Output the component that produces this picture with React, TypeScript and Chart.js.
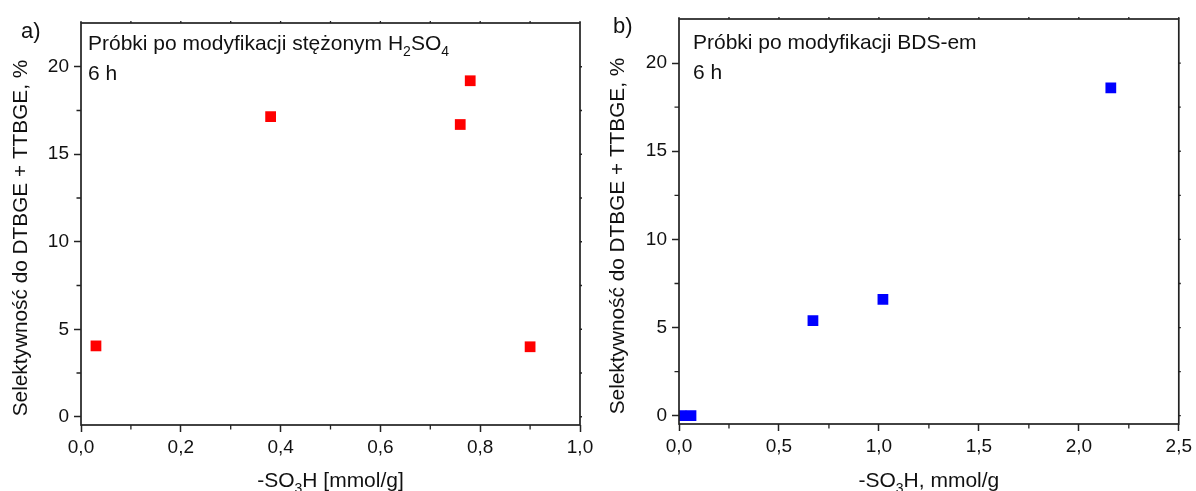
import React, { useEffect, useRef } from "react";
import { Chart, registerables } from "chart.js";
Chart.register(...registerables);

// ---- data ----
const leftX = [0.03, 0.38, 0.76, 0.78, 0.9];
const leftY = [4.05, 17.15, 16.7, 19.2, 4.0];
const rightX = [0.01, 0.06, 0.67, 1.02, 2.16];
const rightY = [0.0, 0.0, 5.4, 6.6, 18.6];

const yTicks = [0, 5, 10, 15, 20];
const yMinor = [2.5, 7.5, 12.5, 17.5];
const leftXTicks = [0, 0.2, 0.4, 0.6, 0.8, 1.0];
const leftXMinor = [0.1, 0.3, 0.5, 0.7, 0.9];
const rightXTicks = [0, 0.5, 1.0, 1.5, 2.0, 2.5];
const rightXMinor = [0.25, 0.75, 1.25, 1.75, 2.25];

const yTitle = "Selektywność do DTBGE + TTBGE, %";
const leftNote = [{ t: "Próbki po modyfikacji stężonym H" }, { t: "2", sub: true }, { t: "SO" }, { t: "4", sub: true }];
const rightNote = [{ t: "Próbki po modyfikacji BDS-em" }];
const timeNote = "6 h";
const leftXTitle = [{ t: "-SO" }, { t: "3", sub: true }, { t: "H [mmol/g]" }];
const rightXTitle = [{ t: "-SO" }, { t: "3", sub: true }, { t: "H, mmol/g" }];

const FONT = '"Liberation Sans", Arial, sans-serif';
const AXIS = "#222";
const TEXT = "#111";

type Part = { t: string; sub?: boolean };

function drawParts(ctx: CanvasRenderingContext2D, parts: Part[], x: number, y: number, size: number, align: "left" | "center") {
  const subSize = Math.round(size * 0.66);
  let total = 0;
  for (const p of parts) {
    ctx.font = `${p.sub ? subSize : size}px ${FONT}`;
    total += ctx.measureText(p.t).width;
  }
  let cx = align === "center" ? x - total / 2 : x;
  ctx.textAlign = "left";
  ctx.textBaseline = "alphabetic";
  for (const p of parts) {
    ctx.font = `${p.sub ? subSize : size}px ${FONT}`;
    ctx.fillText(p.t, cx, y + (p.sub ? size * 0.3 : 0));
    cx += ctx.measureText(p.t).width;
  }
}

function makePlugin(o: any) {
  return {
    id: "frame",
    afterDraw(chart: any) {
      const ctx: CanvasRenderingContext2D = chart.ctx;
      const { left, right, top, bottom } = chart.chartArea;
      const xs = chart.scales.x;
      const ys = chart.scales.y;
      ctx.save();
      ctx.strokeStyle = AXIS;
      ctx.lineWidth = 1.7;
      ctx.strokeRect(left, top, right - left, bottom - top);
      ctx.lineWidth = 1.3;
      ctx.beginPath();
      for (const v of o.minorX) {
        const px = xs.getPixelForValue(v);
        ctx.moveTo(px, bottom);
        ctx.lineTo(px, bottom + 4.5);
      }
      for (const v of o.minorY) {
        const py = ys.getPixelForValue(v);
        ctx.moveTo(left, py);
        ctx.lineTo(left - 4.5, py);
      }
      for (const v of [...o.minorX, ...o.majorX]) {
        const px = xs.getPixelForValue(v);
        ctx.moveTo(px, top);
        ctx.lineTo(px, top - 2);
      }
      for (const v of [...o.minorY, ...yTicks]) {
        const py = ys.getPixelForValue(v);
        ctx.moveTo(right, py);
        ctx.lineTo(right + 2, py);
      }
      ctx.stroke();

      ctx.fillStyle = TEXT;
      // panel label
      ctx.font = `22px ${FONT}`;
      ctx.textAlign = "left";
      ctx.textBaseline = "alphabetic";
      ctx.fillText(o.panel, o.panelX, o.panelY);
      // notes
      drawParts(ctx, o.note, o.noteX, o.noteY, 21, "left");
      drawParts(ctx, [{ t: timeNote }], o.noteX, o.noteY + 30, 21, "left");
      // x title
      drawParts(ctx, o.xTitle, (left + right) / 2, 487, 21, "center");
      // y title
      ctx.save();
      ctx.translate(o.yTitleX, o.yTitleY);
      ctx.rotate(-Math.PI / 2);
      ctx.font = `20.8px ${FONT}`;
      ctx.textAlign = "center";
      ctx.textBaseline = "alphabetic";
      ctx.fillText(yTitle, 0, 0);
      ctx.restore();
      ctx.restore();
    },
  };
}

function makeConfig(xs: number[], ys: number[], color: string, xMax: number, xTicks: number[], padRight: number, padTop: number, xAxisH: number, extras: any) {
  return {
    type: "scatter",
    data: {
      datasets: [
        {
          data: xs.map((x, i) => ({ x, y: ys[i] })),
          pointStyle: "rect",
          pointRadius: 7.6,
          pointHoverRadius: 7.6,
          backgroundColor: color,
          borderColor: color,
          borderWidth: 0,
          clip: 0,
        },
      ],
    },
    options: {
      animation: false,
      responsive: false,
      devicePixelRatio: 1,
      layout: { padding: { left: 0, right: padRight, top: padTop, bottom: 0 } },
      plugins: { legend: { display: false }, tooltip: { enabled: false } },
      scales: {
        x: {
          type: "linear",
          min: 0,
          max: xMax,
          afterBuildTicks: (s: any) => {
            s.ticks = xTicks.map((v) => ({ value: v }));
          },
          afterFit: (s: any) => {
            s.height = xAxisH;
          },
          grid: { display: true, drawOnChartArea: false, drawTicks: true, tickLength: 7, tickWidth: 1.5, tickColor: AXIS },
          border: { display: false },
          ticks: {
            padding: 4,
            color: TEXT,
            font: { family: FONT, size: 19 },
            maxRotation: 0,
            autoSkip: false,
            callback: (v: any) => Number(v).toFixed(1).replace(".", ","),
          },
        },
        y: {
          type: "linear",
          min: -0.47,
          max: 22.5,
          afterBuildTicks: (s: any) => {
            s.ticks = yTicks.map((v) => ({ value: v }));
          },
          afterFit: (s: any) => {
            s.width = 81;
          },
          grid: { display: true, drawOnChartArea: false, drawTicks: true, tickLength: 7, tickWidth: 1.5, tickColor: AXIS },
          border: { display: false },
          ticks: {
            padding: 5,
            color: TEXT,
            font: { family: FONT, size: 19 },
            autoSkip: false,
            callback: (v: any) => String(v),
          },
        },
      },
    },
    plugins: [makePlugin(extras)],
  } as any;
}

function Panel({ cfg, left }: { cfg: any; left: number }) {
  const ref = useRef<HTMLCanvasElement>(null);
  useEffect(() => {
    const chart = new Chart(ref.current as HTMLCanvasElement, cfg);
    return () => chart.destroy();
  }, []);
  return <canvas ref={ref} width={598} height={491} style={{ position: "absolute", left, top: 0, width: 598, height: 491 }} />;
}

export default function App() {
  const leftCfg = makeConfig(leftX, leftY, "#ff0000", 1.0, leftXTicks, 18, 23, 66, {
    panel: "a)", panelX: 21, panelY: 38,
    note: leftNote, noteX: 88, noteY: 50,
    xTitle: leftXTitle, minorX: leftXMinor, majorX: leftXTicks, minorY: yMinor,
    yTitleX: 27, yTitleY: 238,
  });
  const rightCfg = makeConfig(rightX, rightY, "#0000ff", 2.5, rightXTicks, 14, 19, 67, {
    panel: "b)", panelX: 15, panelY: 33,
    note: rightNote, noteX: 95, noteY: 49,
    xTitle: rightXTitle, minorX: rightXMinor, majorX: rightXTicks, minorY: yMinor,
    yTitleX: 26, yTitleY: 236,
  });
  return (
    <div style={{ position: "fixed", left: 0, top: 0, width: 1196, height: 491, background: "#fff" }}>
      <Panel cfg={leftCfg} left={0} />
      <Panel cfg={rightCfg} left={598} />
    </div>
  );
}
